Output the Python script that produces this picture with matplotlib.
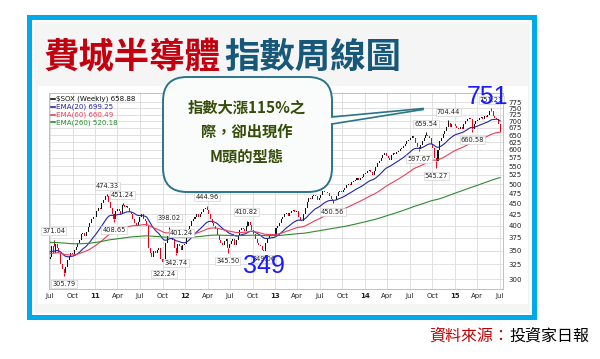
import numpy as np
import pandas as pd
import matplotlib
matplotlib.use('Agg')
import matplotlib.pyplot as plt
from matplotlib.patches import Rectangle, FancyBboxPatch, Polygon
from matplotlib.ticker import FixedLocator, NullLocator, FixedFormatter

# --- data: weekly closes of $SOX, Jul 2010 .. Jul 2015 ---
weeks = pd.date_range('2010-07-02', '2015-07-03', freq='W-FRI')

closes_2010 = [338, 358, 345, 362, 355,
               345, 325, 318, 310,
               320, 332, 340, 346,
               343, 352, 356, 365, 370,
               382, 385, 378, 386,
               398, 405, 415, 420, 418]
closes_2011 = [432, 440, 438, 452,
               460, 468, 470, 455,
               440, 425, 415, 432,
               437, 432, 425, 446, 442,
               445, 440, 430, 425,
               415, 405, 400, 408,
               420, 425, 415, 410, 400,
               355, 345, 338, 350,
               345, 352, 355, 335, 330,
               335, 365, 378, 392,
               380, 370, 355, 345,
               362, 358, 352, 360, 362]
closes_2012 = [378, 392, 400, 410,
               415, 420, 425, 418,
               425, 430, 438, 440, 435,
               425, 415, 405, 400,
               392, 380, 370, 365,
               360, 368, 372, 355, 362,
               368, 372, 360, 370,
               380, 390, 395, 392, 388,
               400, 408, 402, 390,
               382, 372, 365, 360,
               358, 352, 350, 365, 375,
               378, 380, 382, 378]
closes_2013 = [395, 400, 405, 415,
               420, 425, 428, 422,
               428, 432, 435, 430, 432,
               420, 412, 410, 425,
               440, 455, 465, 462, 468,
               472, 468, 458, 465,
               472, 482, 480, 478,
               476, 470, 462, 458, 460,
               470, 478, 482, 480,
               485, 490, 498, 500,
               498, 505, 508, 512, 515,
               510, 515, 520, 528]
closes_2014 = [530, 535, 540, 532, 525,
               535, 548, 560, 565,
               575, 585, 590, 582,
               575, 570, 585, 590,
               588, 592, 598, 602, 605,
               612, 620, 628, 632,
               640, 648, 638, 622,
               608, 604, 615, 628, 638,
               650, 645, 640, 620,
               605, 575, 565, 600, 628,
               640, 655, 665, 680,
               695, 680, 688, 690]
closes_2015 = [682, 675, 670, 680, 672,
               690, 700, 708, 712,
               708, 672, 690, 700,
               705, 712, 715, 708,
               720, 715, 725, 740, 738,
               720, 712, 710, 690,
               658.88]
closes = np.array(closes_2010 + closes_2011 + closes_2012 + closes_2013 + closes_2014 + closes_2015, dtype=float)
first_open = 335

# marked swing highs / lows
label_dates = ['2010-07-16', '2010-08-27', '2011-02-18', '2011-03-18', '2011-04-22',
               '2011-10-07', '2011-10-28', '2011-11-25', '2011-12-16', '2012-03-30',
               '2012-06-22', '2012-09-07', '2012-11-16', '2013-08-23', '2014-08-08',
               '2014-09-05', '2014-10-17', '2014-12-05', '2015-03-13', '2015-05-29']
label_values = [371.04, 305.79, 474.33, 408.65, 451.24,
                322.24, 398.02, 342.74, 401.24, 444.96,
                345.50, 410.82, 349.06, 450.56, 597.67,
                659.54, 545.27, 704.44, 660.58, 751.21]
label_side = ['hi', 'lo', 'hi', 'lo', 'hi',
              'lo', 'hi', 'lo', 'lo', 'hi',
              'lo', 'hi', 'lo', 'lo', 'lo',
              'hi', 'lo', 'hi', 'lo', 'hi']

# EMA start levels (read at Jul 2010)
ema_seeds = {20: 349, 60: 345, 260: 366}
legend_lines = ['$SOX (Weekly) 658.88', 'EMA(20) 699.25', 'EMA(60) 660.49', 'EMA(260) 520.18']

y_ticks = list(range(300, 776, 25))
quarters = pd.date_range('2010-07-01', '2015-07-01', freq='QS')


def ema(values, span, seed):
    alpha = 2.0 / (span + 1)
    out = []
    e = seed
    for v in values:
        e = e + alpha * (v - e)
        out.append(e)
    return np.array(out)


opens = np.concatenate([[first_open], closes[:-1]])

# --- figure ---
fig = plt.figure(figsize=(6, 3.59), dpi=100)
fig.patch.set_facecolor('white')

# background layer in pixel coordinates
bg = fig.add_axes([0, 0, 1, 1], zorder=-5)
bg.set_xlim(0, 600)
bg.set_ylim(359, 0)
bg.axis('off')
bg.add_patch(Rectangle((27, 15), 510, 305, fc='#00aae8', ec='none'))
bg.add_patch(Rectangle((32, 20), 500, 295, fc='white', ec='none'))
bg.add_patch(Rectangle((34, 22), 496, 291, fc='#f5f5f5', ec='none'))
bg.add_patch(Rectangle((38, 86), 490, 218, fc='white', ec='none'))

# title
bg.text(44, 57, '費城半導體', color='#c4000f', fontsize=25.5, fontweight='bold',
        family=['Noto Sans CJK TC'], ha='left', va='center')
bg.text(224, 57, '指數周線圖', color='#17587a', fontsize=25.5, fontweight='bold',
        family=['Noto Sans CJK TC'], ha='left', va='center')

# footer
bg.text(429, 336, '資料來源：', color='#c00000', fontsize=11.5,
        family=['Noto Sans CJK TC'], ha='left', va='center')
bg.text(509, 336, '投資家日報', color='black', fontsize=11.5,
        family=['Noto Sans CJK TC'], ha='left', va='center')

# --- price chart ---
ax = fig.add_axes([49 / 600, 1 - 289 / 359, 454 / 600, 196 / 359])
ax.set_facecolor('white')
ax.set_yscale('log')
ax.set_ylim(285, 814)
ax.set_xlim(pd.Timestamp('2010-06-27'), pd.Timestamp('2015-07-15'))

ax.yaxis.set_major_locator(FixedLocator(y_ticks))
ax.yaxis.set_major_formatter(FixedFormatter([str(t) for t in y_ticks]))
ax.yaxis.set_minor_locator(NullLocator())
ax.yaxis.tick_right()

q_labels = []
for q in quarters:
    q_labels.append(q.strftime('%y') if q.month == 1 else q.strftime('%b'))
ax.set_xticks(quarters)
ax.set_xticklabels(q_labels)
for lbl, q in zip(ax.get_xticklabels(), quarters):
    if q.month == 1:
        lbl.set_fontweight('bold')

ax.tick_params(axis='both', length=0, labelsize=5, colors='#222222')
ax.tick_params(axis='x', pad=3)
ax.tick_params(axis='y', pad=4)
ax.grid(True, color='#dcdcdc', lw=0.6)
ax.set_axisbelow(True)
for sp in ax.spines.values():
    sp.set_color('#b5b5b5')
    sp.set_linewidth(0.6)

# candles
bottoms = np.minimum(opens, closes)
bodies = np.abs(closes - opens)
colors = np.where(closes < opens, '#e8001c', '#111111')
ax.bar(weeks, bodies, bottom=bottoms, width=4.2, color=colors, zorder=3, linewidth=0)

# wicks and labels of the marked swing points
for d, v, side in zip(label_dates, label_values, label_side):
    d = pd.Timestamp(d)
    i = weeks.get_loc(d)
    top = max(opens[i], closes[i])
    low = min(opens[i], closes[i])
    if side == 'hi' and v > top:
        ax.vlines(d, top, v, color=colors[i], lw=0.7, zorder=3)
    if side == 'lo' and v < low:
        ax.vlines(d, v, low, color=colors[i], lw=0.7, zorder=3)
    off = 6 if side == 'hi' else -6
    ax.annotate(f'{v:.2f}', (d, v), xytext=(0, off), textcoords='offset points',
                ha='center', va='center', fontsize=4.8, color='#222222', zorder=6,
                bbox=dict(boxstyle='square,pad=0.15', fc='white', ec='#c8c8c8', lw=0.4))

# moving averages
ax.plot(weeks, ema(closes, 20, ema_seeds[20]), color='#2626a8', lw=0.8, zorder=4)
ax.plot(weeks, ema(closes, 60, ema_seeds[60]), color='#e8405a', lw=0.8, zorder=4)
ax.plot(weeks, ema(closes, 260, ema_seeds[260]), color='#2e8b2e', lw=0.8, zorder=4)

# legend text top-left
leg_colors = ['#111111', '#2626a8', '#e8405a', '#2e8b2e']
leg_y = [0.970, 0.930, 0.890, 0.850]
for txt, c, yy in zip(legend_lines, leg_colors, leg_y):
    ax.plot([0.004, 0.013], [yy, yy], transform=ax.transAxes, color=c, lw=1.2, zorder=7)
    ax.text(0.016, yy, txt, transform=ax.transAxes, color=c, fontsize=5.1,
            ha='left', va='center', zorder=7)

# --- overlay: callout and big numbers ---
ov = fig.add_axes([0, 0, 1, 1], zorder=10)
ov.set_xlim(0, 600)
ov.set_ylim(359, 0)
ov.axis('off')

bubble_fc = '#fafcfb'
bubble_ec = '#2a7489'
ov.add_patch(FancyBboxPatch((163, 77), 169, 115, boxstyle='round,pad=0,rounding_size=24',
                            fc=bubble_fc, ec=bubble_ec, lw=1.4))
ov.add_patch(Polygon([(329, 117.5), (423, 109), (329, 123.5)], closed=True,
                     fc=bubble_fc, ec='none'))
ov.plot([332, 423], [117, 108.5], color=bubble_ec, lw=1.2)
ov.plot([332, 423], [124, 109.5], color=bubble_ec, lw=1.2)

callout_lines = ['指數大漲115%之', '際，卻出現作', 'M頭的型態']
for txt, yy in zip(callout_lines, [108, 132, 157]):
    ov.text(247, yy, txt, color='#354d08', fontsize=11, fontweight='bold',
            family=['Noto Sans CJK TC'], ha='center', va='center')

ov.text(487.5, 104, '751', color='#1a1aff', fontsize=18, family=['Liberation Sans'],
        ha='center', va='baseline')
ov.text(264, 273, '349', color='#1a1aff', fontsize=18, family=['Liberation Sans'],
        ha='center', va='baseline')

fig.savefig('out.png', dpi=100)
